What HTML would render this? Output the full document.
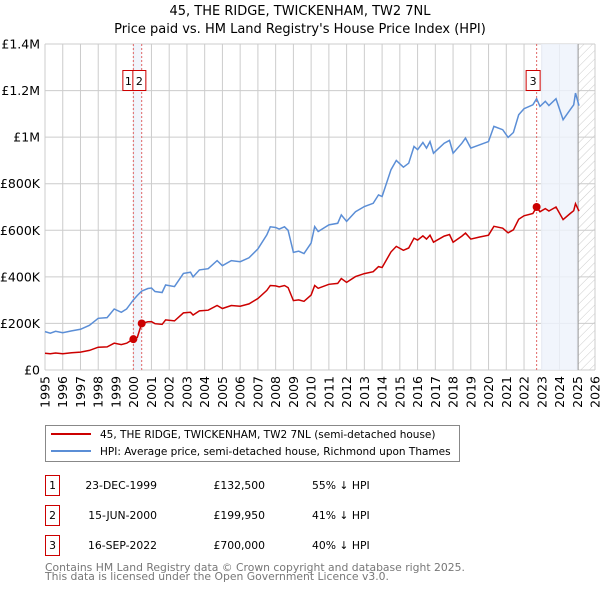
<!DOCTYPE html>
<html><head><meta charset="utf-8"><style>
body{margin:0;background:#fff;width:600px;height:590px;overflow:hidden;font-family:"DejaVu Sans","Liberation Sans",sans-serif;}
svg text{font-family:"DejaVu Sans","Liberation Sans",sans-serif;}
</style></head><body>
<svg id="chart" width="600" height="590" xmlns="http://www.w3.org/2000/svg">
<defs><pattern id="hatch" width="6" height="6" patternUnits="userSpaceOnUse" patternTransform="rotate(45)"><line x1="0" y1="0" x2="0" y2="6" stroke="#ccc" stroke-width="1"/></pattern></defs>
<text x="300" y="15" text-anchor="middle" font-size="13">45, THE RIDGE, TWICKENHAM, TW2 7NL</text>
<text x="300" y="33" text-anchor="middle" font-size="13">Price paid vs. HM Land Registry's House Price Index (HPI)</text>
<g id="grid"></g><g id="shade"></g><g id="lines"></g><g id="marks"></g><g id="axes"></g>
<rect x="45.5" y="425.5" width="414" height="36" fill="#fff" stroke="#888"/>
<line x1="51" y1="434" x2="91" y2="434" stroke="#cc0000" stroke-width="2"/>
<text x="100" y="438" font-size="10.5">45, THE RIDGE, TWICKENHAM, TW2 7NL (semi-detached house)</text>
<line x1="51" y1="451" x2="91" y2="451" stroke="#5b8ed6" stroke-width="2"/>
<text x="100" y="455" font-size="10.5">HPI: Average price, semi-detached house, Richmond upon Thames</text>
<g id="table"></g>
<text x="45" y="571" font-size="10.8" fill="#777">Contains HM Land Registry data © Crown copyright and database right 2025.</text>
<text x="45" y="580" font-size="10.8" fill="#777">This data is licensed under the Open Government Licence v3.0.</text>
</svg>
<script>
const hpiYears=[1995.0,1995.3,1995.6,1996.0,1996.5,1997.0,1997.5,1998.0,1998.5,1998.9,1999.3,1999.6,1999.97,2000.2,2000.45,2000.8,2001.0,2001.2,2001.6,2001.8,2002.3,2002.8,2003.2,2003.35,2003.7,2004.2,2004.7,2005.0,2005.5,2006.0,2006.5,2007.0,2007.5,2007.7,2008.0,2008.2,2008.5,2008.7,2009.0,2009.3,2009.6,2010.0,2010.2,2010.4,2011.0,2011.5,2011.7,2012.0,2012.5,2013.0,2013.5,2013.8,2014.0,2014.5,2014.8,2015.2,2015.5,2015.8,2016.0,2016.3,2016.5,2016.7,2016.9,2017.5,2017.8,2018.0,2018.5,2018.7,2019.0,2019.5,2020.0,2020.3,2020.8,2021.1,2021.4,2021.7,2022.0,2022.5,2022.71,2022.9,2023.2,2023.4,2023.8,2024.2,2024.6,2024.8,2024.9,2025.1];
const hpiValues=[165,158,166,160,168,175,192,222,225,262,248,262,300,320,339,350,352,337,333,365,358,415,420,400,430,435,470,448,470,465,482,520,580,615,612,605,615,600,505,510,500,545,616,595,623,630,666,638,680,702,716,752,745,860,900,871,888,960,946,977,953,981,931,974,986,931,974,996,953,967,981,1046,1032,999,1020,1096,1122,1139,1165,1132,1154,1136,1165,1075,1118,1139,1189,1135];
const priceValues=[72,70,73,70,74,77,84,98,99,115,109,115,132.5,140,200,207,208,199,196,215,211,245,248,236,254,257,277,264,277,274,284,307,342,363,361,357,363,354,298,301,295,322,363,351,368,372,393,376,401,414,422,444,440,507,531,514,524,566,558,576,562,579,549,575,582,549,575,588,562,571,579,617,609,589,602,647,662,672,700,680,693,683,700,646,672,684,714,682];
const saleYears=[1999.98,2000.45,2022.71];
const saleValues=[132.5,199.95,700];
const saleLabels=["1","2","3"];
const saleDates=["23-DEC-1999","15-JUN-2000","16-SEP-2022"];
const salePrices=["£132,500","£199,950","£700,000"];
const saleHpi=["55% ↓ HPI","41% ↓ HPI","40% ↓ HPI"];
const yTicks=[0,200,400,600,800,1000,1200,1400];
const yTickLabels=["£0","£200K","£400K","£600K","£800K","£1M","£1.2M","£1.4M"];
const xTicks=[1995,1996,1997,1998,1999,2000,2001,2002,2003,2004,2005,2006,2007,2008,2009,2010,2011,2012,2013,2014,2015,2016,2017,2018,2019,2020,2021,2022,2023,2024,2025,2026];
const X0=45,X1=595,Y0=370,Y1=44;
const xs=y=>X0+(y-1995)/(2026-1995)*(X1-X0);
const ys=v=>Y0-v/1400*(Y0-Y1);
const NS="http://www.w3.org/2000/svg";
function mk(parent,tag,attrs,text){const e=document.createElementNS(NS,tag);for(const k in attrs)e.setAttribute(k,attrs[k]);if(text!==undefined)e.textContent=text;document.getElementById(parent).appendChild(e);return e;}
xTicks.forEach(t=>{const l=mk('grid','line',{x1:xs(t),x2:xs(t),y1:Y1,y2:Y0,stroke:'#ccc','stroke-width':1});


const tx=mk('axes','text',{transform:`translate(${xs(t)+4.5},${Y0+6}) rotate(-90)`,'text-anchor':'end','font-size':'12.5'},String(t));

});
yTicks.forEach((t,i)=>{const l=mk('grid','line',{x1:X0,x2:X1,y1:ys(t),y2:ys(t),stroke:'#ccc','stroke-width':1});


const tx=mk('axes','text',{x:X0-5,y:ys(t)+4.5,'text-anchor':'end','font-size':'12.5'},yTickLabels[i]);

});
let s1=mk('shade','rect',{x:xs(saleYears[0]),y:Y1,width:xs(saleYears[1])-xs(saleYears[0]),height:Y0-Y1,fill:'#eef2fb',opacity:0.8});


let s2=mk('shade','rect',{x:xs(2022.96),y:Y1,width:xs(2025.05)-xs(2022.96),height:Y0-Y1,fill:'#eef2fb',opacity:0.8});


let h=mk('shade','rect',{x:xs(2025.05),y:Y1,width:X1-xs(2025.05),height:Y0-Y1,fill:'url(#hatch)'});


mk('shade','line',{x1:xs(2025.05),x2:xs(2025.05),y1:Y1,y2:Y0,stroke:'#999','stroke-width':1});
saleYears.forEach((y,i)=>{const l=mk('shade','line',{x1:xs(y),x2:xs(y),y1:Y1,y2:Y0,stroke:'#e06666','stroke-width':1,'stroke-dasharray':'2,2'});

});
const path=(yrs,vals)=>yrs.map((y,i)=>(i?'L':'M')+xs(y).toFixed(1)+','+ys(vals[i]).toFixed(1)).join('');
let hp=mk('lines','path',{d:path(hpiYears,hpiValues),fill:'none',stroke:'#5b8ed6','stroke-width':1.5});


let pp=mk('lines','path',{d:path(hpiYears,priceValues),fill:'none',stroke:'#cc0000','stroke-width':1.5});


const boxX=[xs(saleYears[0])-11,xs(saleYears[0])-1,xs(saleYears[2])-11];
const boxW=[11,13,14];
saleYears.forEach((y,i)=>{const c=mk('marks','circle',{cx:xs(y),cy:ys(saleValues[i]),r:4,fill:'#cc0000'});


const r=mk('marks','rect',{x:boxX[i]+0.5,y:70.5,width:boxW[i],height:20,fill:'#fff',stroke:'#cc0000'});


const t=mk('marks','text',{x:boxX[i]+boxW[i]/2+0.5,y:85,'text-anchor':'middle','font-size':'11'},saleLabels[i]);


const ry=475+i*30;
const tb=mk('table','rect',{x:45.5,y:ry+0.5,width:14,height:20,fill:'none',stroke:'#cc0000'});


const tn=mk('table','text',{x:52.5,y:ry+14,'text-anchor':'middle','font-size':'10.8'},saleLabels[i]);


const td=mk('table','text',{x:157,y:ry+14,'text-anchor':'end','font-size':'10.8'},saleDates[i]);


const tp=mk('table','text',{x:265,y:ry+14,'text-anchor':'end','font-size':'10.8'},salePrices[i]);


const th=mk('table','text',{x:312,y:ry+14,'font-size':'10.8'},saleHpi[i]);

});
</script>
</body></html>
